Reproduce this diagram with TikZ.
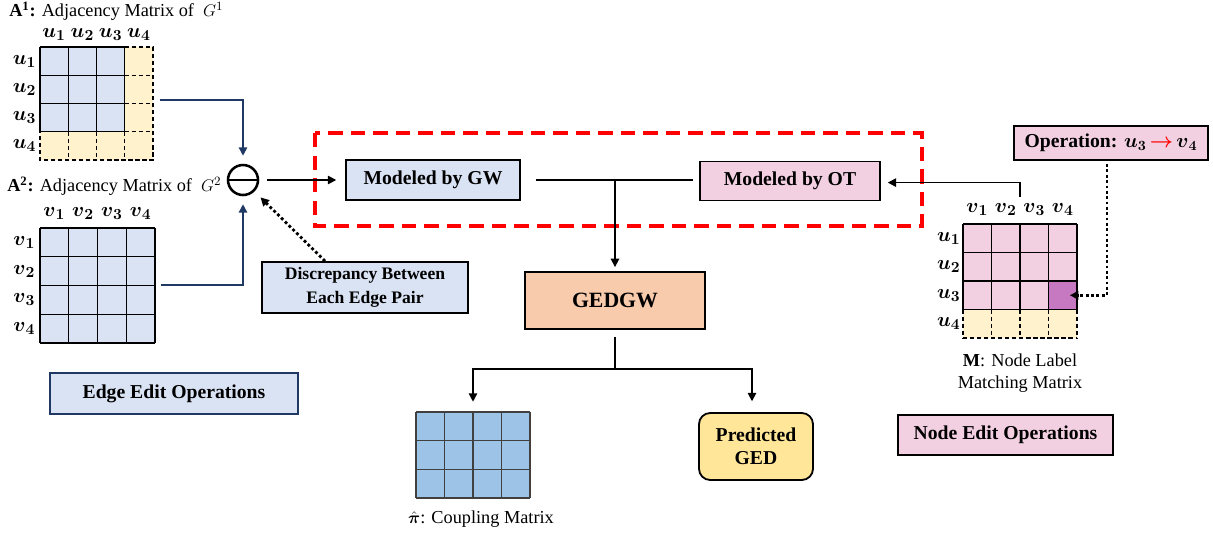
\documentclass[tikz,border=0pt]{standalone}
\usepackage{fontspec}
\usepackage{amsmath}
\setmainfont{Liberation Serif}
\usetikzlibrary{arrows.meta}

\definecolor{gwblue}{HTML}{DAE3F3}
\definecolor{otpink}{HTML}{F2D0E1}
\definecolor{padyellow}{HTML}{FFF2CC}
\definecolor{gedorange}{HTML}{F8CBAD}
\definecolor{gedyellow}{HTML}{FFE699}
\definecolor{coupleblue}{HTML}{9DC3E6}
\definecolor{matchpurple}{HTML}{C678C0}
\definecolor{navy}{HTML}{1F3864}

\newcommand{\bu}[1]{\boldsymbol{u}_{\boldsymbol{#1}}}
\newcommand{\bv}[1]{\boldsymbol{v}_{\boldsymbol{#1}}}

\begin{document}
\begin{tikzpicture}[x=0.025cm,y=-0.025cm,
  box/.style={draw=black,line width=1.3pt,align=center,inner sep=0pt,
    font=\fontsize{14}{16.5}\selectfont\bfseries},
  flow/.style={line width=1.2pt,-{Triangle[length=6pt,width=6pt]}},
  hint/.style={line width=2pt,dash pattern=on 2pt off 1.8pt,-{Triangle[length=6pt,width=6pt]}},
  cell/.style={line width=0.9pt},
  lbl/.style={inner sep=0pt,font=\fontsize{15}{18}\selectfont},
  caption/.style={inner sep=0pt,align=center,font=\fontsize{13}{16}\selectfont}]
\useasboundingbox (0,0) rectangle (1213,535);

% adjacency matrix of G1 (u4 is the padded node)
\node[anchor=west,caption] (A1t) at (9,11) {$\mathbf{A}^{\mathbf{1}}$\textbf{:} Adjacency Matrix of~ $G^1$};
\node[minimum size=2.825cm,inner sep=0pt] (A1) at (96.5,103.5) {};
\begin{scope}[shift={(40,47)},x=0.70625cm,y=-0.70625cm]
  \fill[padyellow] (0,0) rectangle (4,4);
  \fill[gwblue] (0,0) rectangle (3,3);
  \foreach \k in {0,...,3} \draw[cell] (\k,0) -- (\k,3) (0,\k) -- (3,\k);
  \foreach \k in {1,2} \draw[cell,densely dashed] (\k,3) -- (\k,4) (3,\k) -- (4,\k);
  \draw[cell,densely dashed] (3,0) -- (4,0) -- (4,4) -- (0,4) -- (0,3) (3,3) -- (4,3) (3,3) -- (3,4);
  \foreach \k in {1,...,4} {
    \node[lbl] (A1c\k) at (\k-0.5,-0.45) {$\bu{\k}$};
    \node[lbl] (A1r\k) at (-0.55,\k-0.5) {$\bu{\k}$};
  }
\end{scope}

% adjacency matrix of G2
\node[anchor=west,caption] (A2t) at (7,186) {$\mathbf{A}^{\mathbf{2}}$\textbf{:} Adjacency Matrix of~ $G^2$};
\node[minimum size=2.875cm,inner sep=0pt] (A2) at (97.5,285) {};
\begin{scope}[shift={(40,228)},x=0.71875cm,y=-0.71875cm]
  \fill[gwblue] (0,0) rectangle (4,4);
  \foreach \k in {0,...,4} \draw[cell] (\k,0) -- (\k,4) (0,\k) -- (4,\k);
  \foreach \k in {1,...,4} {
    \node[lbl] (A2c\k) at (\k-0.5,-0.5) {$\bv{\k}$};
    \node[lbl] (A2r\k) at (-0.55,\k-0.5) {$\bv{\k}$};
  }
\end{scope}

% node label matching matrix
\node[minimum size=2.85cm,inner sep=0pt] (M) at (1020,281) {};
\begin{scope}[shift={(963,224)},x=0.7125cm,y=-0.7125cm]
  \fill[padyellow] (0,0) rectangle (4,4);
  \fill[otpink] (0,0) rectangle (4,3);
  \fill[matchpurple] (3,2) rectangle (4,3);
  \coordinate (hit) at (3.75,2.5);
  \foreach \k in {0,...,4} \draw[cell] (\k,0) -- (\k,3);
  \foreach \k in {0,...,3} \draw[cell] (0,\k) -- (4,\k);
  \foreach \k in {0,...,4} \draw[cell,densely dashed] (\k,3) -- (\k,4);
  \draw[cell,densely dashed] (0,4) -- (4,4);
  \foreach \k in {1,...,4} {
    \node[lbl] (Mc\k) at (\k-0.5,-0.5) {$\bv{\k}$};
    \node[lbl] (Mr\k) at (-0.5,\k-0.5) {$\bu{\k}$};
  }
\end{scope}
\node[caption] (Mt) at (1020,373) {$\mathbf{M}$: Node Label\\Matching Matrix};

% coupling matrix
\node[minimum width=2.85cm,minimum height=2.15cm,inner sep=0pt] (cpl) at (473,455) {};
\begin{scope}[shift={(416,412)},x=0.7125cm,y=-0.7167cm]
  \fill[coupleblue] (0,0) rectangle (4,3);
  \foreach \k in {0,...,4} \draw[cell,black!75] (\k,0) -- (\k,3);
  \foreach \k in {0,...,3} \draw[cell,black!75] (0,\k) -- (4,\k);
\end{scope}
\node[caption] (cplt) at (481,519) {$\hat{\boldsymbol{\pi}}$: Coupling Matrix};

% boxes
\node[circle,draw=black,line width=1.8pt,minimum size=0.75cm,inner sep=0pt] (minus) at (243,180) {};
\draw[line width=1.8pt] (minus.west) -- (minus.east);
\draw[red,line width=2.4pt,dash pattern=on 10pt off 6pt] (315,133) rectangle (922,226);
\node[box,fill=gwblue,minimum width=4.35cm,minimum height=1cm] (gw) at (433,180) {Modeled by GW};
\node[box,fill=otpink,minimum width=4.5cm,minimum height=0.975cm] (ot) at (790,181) {Modeled by OT};
\node[box,fill=gwblue,minimum width=5.15cm,minimum height=1.275cm,font=\fontsize{12.5}{17}\selectfont\bfseries] (discr) at (365,287.5) {Discrepancy Between\\Each Edge Pair};
\node[box,fill=gedorange,minimum width=4.5cm,minimum height=1.425cm,font=\fontsize{15.5}{18}\selectfont\bfseries] (gedgw) at (615,300.5) {GEDGW};
\node[box,fill=gedyellow,rounded corners=8pt,minimum width=2.85cm,minimum height=1.675cm] (pred) at (756,446.5) {Predicted\\GED};
\node[box,draw=navy,fill=gwblue,minimum width=6.2cm,minimum height=1.025cm] (edgeops) at (174,393.5) {Edge Edit Operations};
\node[box,fill=otpink,minimum width=4.85cm,minimum height=0.85cm] (oper) at (1111,143) {Operation: $\bu{3}$\,{\color{red}$\boldsymbol{\rightarrow}$}\,$\bv{4}$};
\node[box,fill=otpink,minimum width=5.375cm,minimum height=1cm] (nodeops) at (1005.5,435) {Node Edit Operations};

% connectors
\draw[flow,navy] ([xshift=0.175cm,yshift=0.09cm]A1.east) -| ([yshift=0.2cm]minus.north);
\draw[flow,navy] ([xshift=0.15cm]A2.east) -| ([yshift=-0.2cm]minus.south);
\draw[flow] ([xshift=0.2cm]minus.east) -- ([xshift=-0.22cm]gw.west);
\coordinate (join) at (gedgw.north |- gw.east);
\draw[line width=1.2pt] ([xshift=0.37cm]gw.east) -- ([xshift=-0.15cm]ot.west |- gw.east);
\draw[flow] (join) -- ([yshift=0.1cm]gedgw.north);
\draw[flow] ([yshift=0.68cm]M.north) |- ([xshift=0.17cm,yshift=-0.04cm]ot.east);
\draw[hint,shorten >=6pt] ([xshift=-1.0cm]discr.north) -- (minus.south east);
\draw[hint] ([xshift=-0.1cm,yshift=-0.08cm]oper.south) |- (hit);
\draw[line width=1.2pt] ([yshift=-0.17cm]gedgw.south) -- ++(0,-0.8cm) coordinate (fork);
\draw[flow] (fork) -| ([yshift=0.25cm]cpl.north);
\draw[flow] (fork) -| ([xshift=-0.1cm,yshift=0.27cm]pred.north);
\end{tikzpicture}
\end{document}
